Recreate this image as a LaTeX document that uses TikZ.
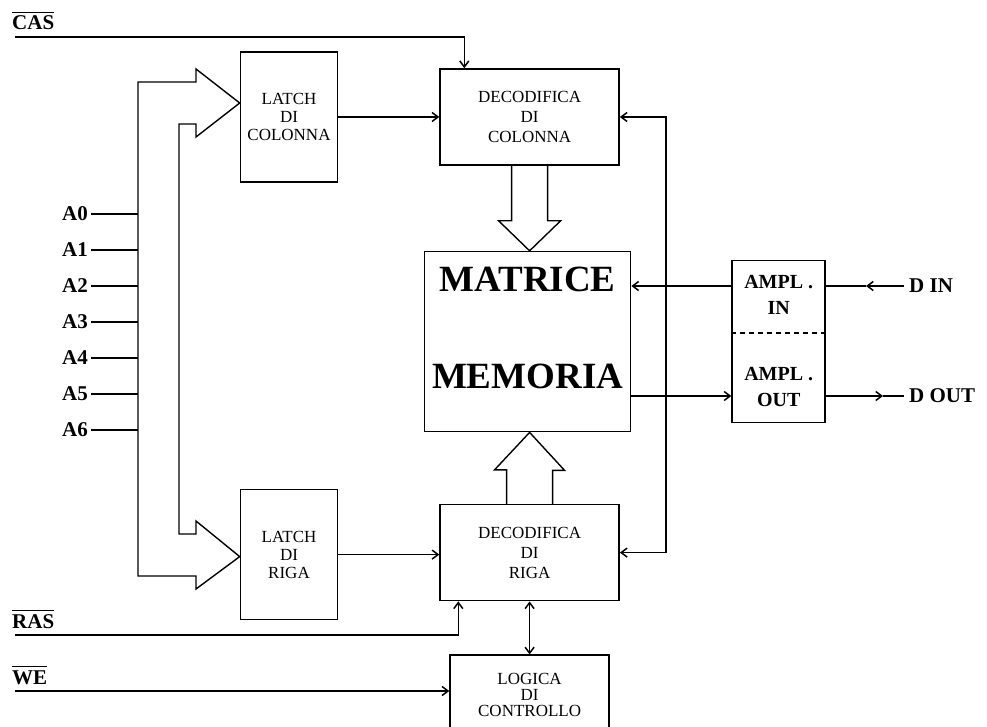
\documentclass[tikz,border=0pt]{standalone}
\usepackage{fontspec}
\setmainfont{Liberation Serif}
\usetikzlibrary{arrows.meta,positioning,calc}
\newcommand\barsig[1]{\vbox{\hrule height 1.4pt\kern 3pt\hbox{#1}}}

\begin{document}
\begin{tikzpicture}[x=1pt,y=-1pt,
  unit/.style={draw,line width=1.6pt,inner sep=0pt,align=center,font=\fontsize{17}{19}\selectfont},
  latch/.style={unit,minimum width=97pt,minimum height=130pt,font=\fontsize{17}{18}\selectfont},
  dec/.style={unit,minimum width=179pt,minimum height=96pt,font=\fontsize{17}{20}\selectfont},
  arr/.style={-{Straight Barb[length=6pt,width=9pt]},line width=1.5pt},
  darr/.style={{Straight Barb[length=6pt,width=9pt]}-{Straight Barb[length=6pt,width=9pt]},line width=1.5pt},
  bus/.style={line width=1.4pt,line join=miter},
  sig/.style={font=\fontsize{21}{24}\bfseries,inner sep=0pt,anchor=base west},
  addr/.style={font=\fontsize{21}{24}\bfseries,inner sep=3pt,anchor=east},
  io/.style={font=\fontsize{21}{24}\bfseries,inner sep=5pt,anchor=west},
  amp/.style={font=\fontsize{20}{26}\bfseries,inner sep=0pt,align=center},
  bigtxt/.style={font=\fontsize{37}{40}\bfseries,inner sep=0pt}
]
\useasboundingbox (0,0) rectangle (987,727);
\clip (0,0) rectangle (987,727);

% blocks
\node[latch] (lc) at (289,117) {LATCH\\DI\\COLONNA};
\node[latch,below=306pt of lc] (lr) {LATCH\\DI\\RIGA};
\node[dec,right=101pt of lc] (dc) {DECODIFICA\\DI\\COLONNA};
\node[dec,below=338pt of dc] (dr) {DECODIFICA\\DI\\RIGA};
\node[unit,minimum width=206pt,minimum height=180pt,below=85pt of dc,xshift=-2pt] (mm) {};
\node[bigtxt] (mt1) at ($(mm.north)+(0,29)$) {MATRICE};
\node[bigtxt] (mt2) at ($(mm.south)+(0,-56)$) {MEMORIA};
\node[unit,minimum width=93pt,minimum height=162pt,right=100pt of mm] (ampl) {};
\node[amp] (ai) at ($(ampl.north)+(0,35)$) {AMPL .\\IN};
\node[amp] (ao) at ($(ampl.south)+(0,-36)$) {AMPL .\\OUT};
\draw[dash pattern=on 5pt off 4pt,line width=1.4pt] ([yshift=-73pt]ampl.north west) -- ([yshift=-73pt]ampl.north east);
\node[unit,minimum width=159pt,minimum height=80pt,below=53pt of dr,font=\fontsize{17}{16}\selectfont] (lg) {LOGICA\\DI\\CONTROLLO};

% address bus
\coordinate (busL) at (138,82);
\foreach \i in {0,...,6}{
  \node[addr] (a\i) at (91,214+36*\i) {A\i};
  \draw[line width=1.5pt] (a\i.east) -- (a\i.east -| busL);
}
\draw[bus] (179,534) -- (179,124) -- (196,124) -- (196,137) -- ([yshift=14pt]lc.west)
  -- (196,69) -- (196,82) -- (138,82) -- (138,576) -- (196,576) -- (196,589)
  -- ([yshift=-2pt]lr.west) -- (196,521) -- (196,534) -- cycle;

% fat arrows to the matrix
\draw[bus] ([xshift=-18pt]dc.south) -- ++(0,55) -- ++(-13,0) -- (dc.south |- mm.north)
  -- ++(31,-30) -- ++(-13,0) -- ([xshift=18pt]dc.south);
\draw[bus] ([xshift=-23pt]dr.north) -- ++(0,-34) -- ++(-12,0) -- (dr.north |- mm.south)
  -- ++(35,38) -- ++(-12,0) -- ([xshift=23pt]dr.north);

% control signals
\node[sig] (cas) at (12,30) {\barsig{CAS}};
\node[sig] (ras) at (12,628) {\barsig{RAS}};
\node[sig] (we) at (12,684) {\barsig{WE}};
\draw[arr] ([shift={(3pt,-7pt)}]cas.base west) -| ([xshift=25pt]dc.north west);
\draw[arr] ([shift={(3pt,-7pt)}]ras.base west) -| ([xshift=19pt]dr.south west);
\draw[arr] ([shift={(3pt,-7pt)}]we.base west) coordinate (weS) -- (weS -| lg.west);

% links
\draw[arr] (lc.east) -- (lc.east -| dc.west);
\draw[arr] (lr.east) -- (lr.east -| dr.west);
\draw[darr] (dc.east) -- ++(46,0) |- (dr.east);
\draw[darr] (dr.south) -- (lg.north);

% data in / out
\node[io] (din) at (904,286) {D IN};
\node[io] (dout) at (904,396) {D OUT};
\draw[arr] (din.west) -- ++(-38,0) coordinate (dinT);
\draw[line width=1.5pt] (dinT) -- (dinT -| ampl.east);
\draw[arr] (ampl.west |- din) -- (mm.east |- din);
\draw[arr] (mm.east |- dout) -- (ampl.west |- dout);
\draw[arr] (ampl.east |- dout) -- ([xshift=-21pt]dout.west) coordinate (doutT);
\draw[line width=1.5pt] (doutT) -- (dout.west);
\end{tikzpicture}
\end{document}
